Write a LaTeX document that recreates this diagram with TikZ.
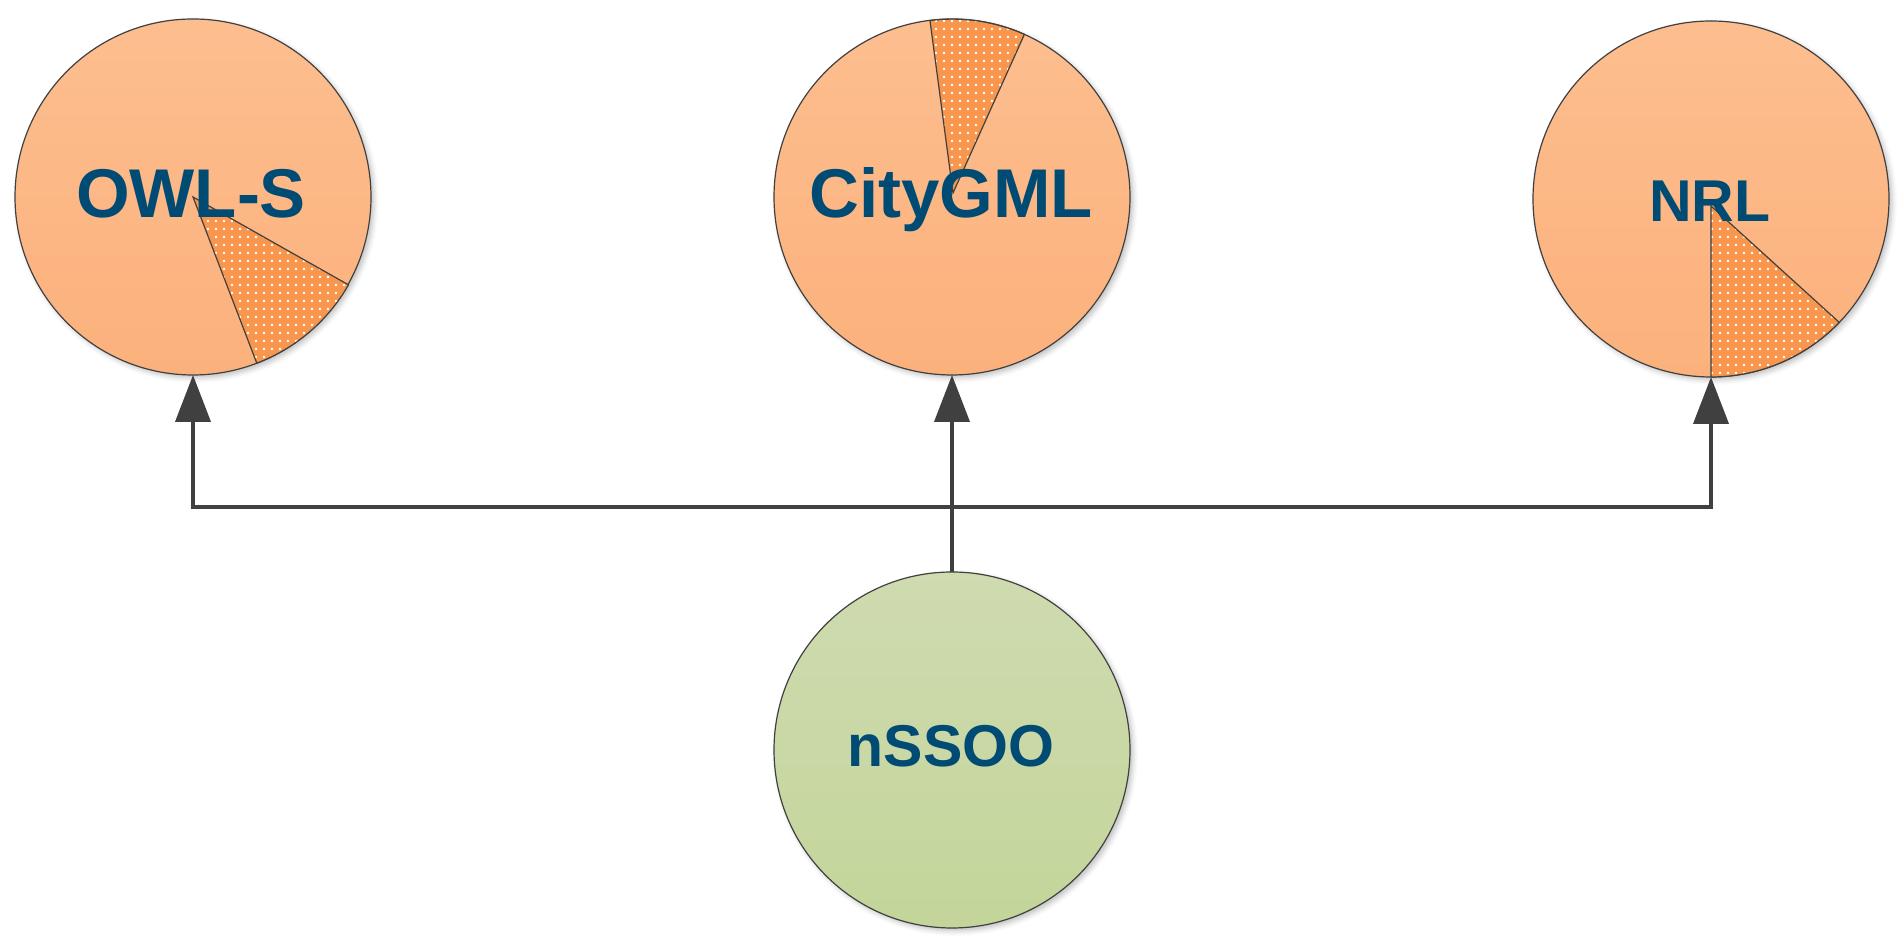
\documentclass[tikz,border=0pt]{standalone}
\usepackage{fontspec}
\setmainfont{Liberation Sans}
\usetikzlibrary{arrows.meta,patterns.meta,shadows.blur}
\definecolor{bord}{HTML}{404040}
\definecolor{txtc}{HTML}{004B73}
\definecolor{orTop}{HTML}{FDBE8F}
\definecolor{orBot}{HTML}{FBB17C}
\definecolor{grTop}{HTML}{CFDBB0}
\definecolor{grBot}{HTML}{C3D59A}
\definecolor{sliceC}{HTML}{F7964C}
\tikzset{
  circ/.style={circle, minimum size=356pt, inner sep=0pt, outer sep=0pt,
    draw=bord, line width=1.2pt,
    blur shadow={shadow xshift=3pt, shadow yshift=-3pt, shadow opacity=25, shadow blur radius=5pt}},
  orangec/.style={circ, top color=orTop, bottom color=orBot},
  greenc/.style={circ, top color=grTop, bottom color=grBot},
  slice/.style={preaction={fill=sliceC},
    pattern={Dots[distance=8pt, radius=1.4pt]}, pattern color=white,
    postaction={draw=bord, line width=1.2pt}},
  bigtxt/.style={text=txtc, font=\bfseries\fontsize{69}{80}\selectfont, inner sep=0pt, anchor=base},
  smalltxt/.style={text=txtc, font=\bfseries\fontsize{59}{70}\selectfont, inner sep=0pt, anchor=base},
  conn/.style={draw=bord, line width=4pt},
  arr/.style={conn, -{Triangle[length=47pt,width=35pt]}}
}
\begin{document}
\begin{tikzpicture}[x=1pt,y=1pt]
\useasboundingbox (0,0) rectangle (1904,949);
% circles
\node[orangec] (owl) at (193,752) {};
\node[orangec] (city) at (952,752) {};
\node[orangec] (nrl) at (1711,750) {};
\node[greenc] (nssoo) at (952,199) {};
% slices
\path[slice] (owl.center) -- (owl.-69.3) arc[start angle=-69.3, end angle=-29.7, radius=178pt] -- cycle;
\path[slice] ([shift={(1pt,4pt)}]city.center) -- (city.66.1) arc[start angle=66.1, end angle=97.2, radius=178pt] -- cycle;
\path[slice] ([shift={(0pt,-7pt)}]nrl.center) -- (nrl.-90) arc[start angle=-90, end angle=-43.9, radius=178pt] -- cycle;
% labels
\node[bigtxt] (owlT) at (191,731) {OWL-S};
\node[bigtxt] (cityT) at (951,731) {CityGML};
\node[smalltxt] (nrlT) at (1710,727) {NRL};
\node[smalltxt] (nssooT) at (951,182) {nSSOO};
% connectors
\coordinate (j) at (nssoo.north |- 0,442);
\draw[arr] (nssoo.north) -- (city.south);
\draw[arr] (j) -| (owl.south);
\draw[arr] (j) -| (nrl.south);
\end{tikzpicture}
\end{document}
